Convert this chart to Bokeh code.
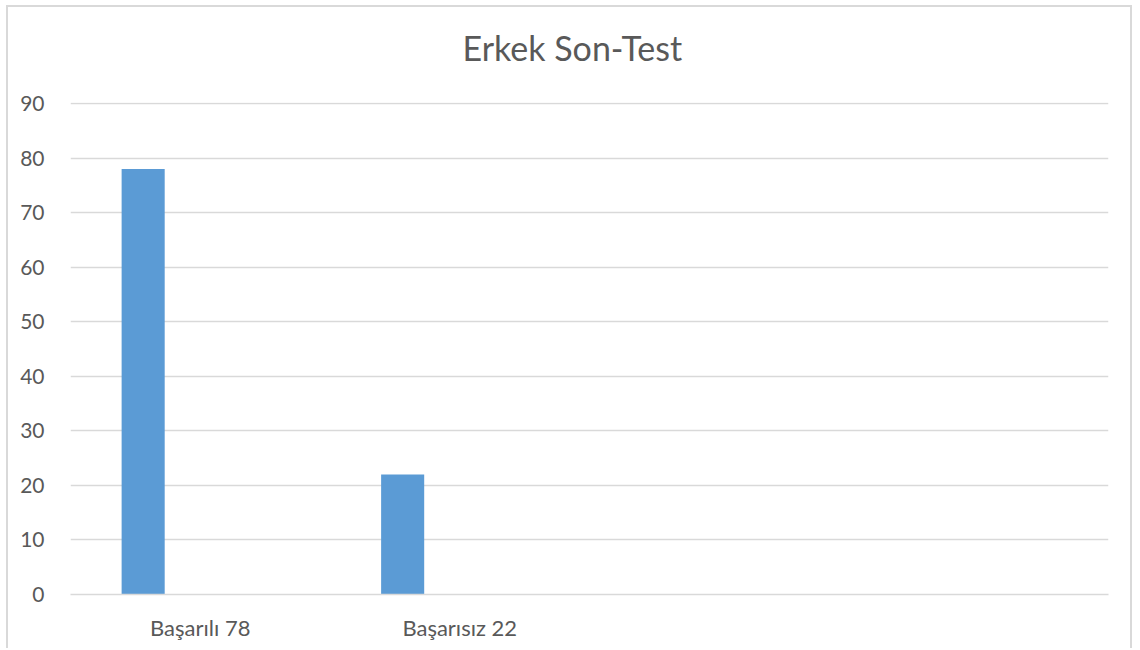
from bokeh.plotting import figure
from bokeh.models import FactorRange, Range1d, FixedTicker, Title
from bokeh.transform import dodge
from bokeh.embed import file_html
from bokeh.resources import INLINE

categories = ["Başarılı 78", "Başarısız 22", " ", "  "]
values = [78, 22, None, None]
y_ticks = [0, 10, 20, 30, 40, 50, 60, 70, 80, 90]
title_text = "Erkek Son-Test"

FONT = "Lato"
TXT = "#595959"
GRID = "#d9d9d9"

p = figure(width=1126, height=643, output_backend="svg", toolbar_location=None,
           x_range=FactorRange(*categories), y_range=Range1d(0, 90.2),
           min_border_left=62, min_border_right=26, min_border_bottom=56, min_border_top=95)
p.styles = {"border-left": "2px solid #d9d9d9", "border-top": "2px solid #d9d9d9",
            "border-right": "2px solid #d9d9d9", "margin-left": "6px", "margin-top": "5px"}

# thin spacer panel between the frame and the title
spacer = Title(text=" ", text_font_size="1px", standoff=30)
p.add_layout(spacer, "above")

t = Title(text=title_text, align="left", vertical_align="top", text_font=FONT,
          text_font_size="34px", text_color=TXT, text_font_style="normal",
          offset=392, standoff=0)
p.add_layout(t, "above")

src = {"cat": [c for c, v in zip(categories, values) if v is not None],
       "val": [v for v in values if v is not None]}
p.vbar(x=dodge("cat", -0.22, range=p.x_range), top="val", width=0.166, source=src,
       color="#5B9BD5", line_color=None)

p.outline_line_color = None
p.xgrid.grid_line_color = None
p.ygrid.grid_line_color = GRID
p.ygrid.grid_line_width = 1.5
p.yaxis.ticker = FixedTicker(ticks=y_ticks)
p.yaxis.axis_line_color = None
p.yaxis.major_tick_line_color = None
p.yaxis.minor_tick_line_color = None
p.yaxis.major_label_text_font = FONT
p.yaxis.major_label_text_font_size = "21px"
p.yaxis.major_label_text_color = TXT
p.yaxis.major_label_standoff = 20

p.xaxis.axis_line_color = GRID
p.xaxis.axis_line_width = 1.5
p.xaxis.major_tick_line_color = None
p.xaxis.minor_tick_line_color = None
p.xaxis.major_label_text_font = FONT
p.xaxis.major_label_text_font_size = "22px"
p.xaxis.major_label_text_color = TXT
p.xaxis.major_label_standoff = 13

open("out.html", "w").write(file_html(p, INLINE))
